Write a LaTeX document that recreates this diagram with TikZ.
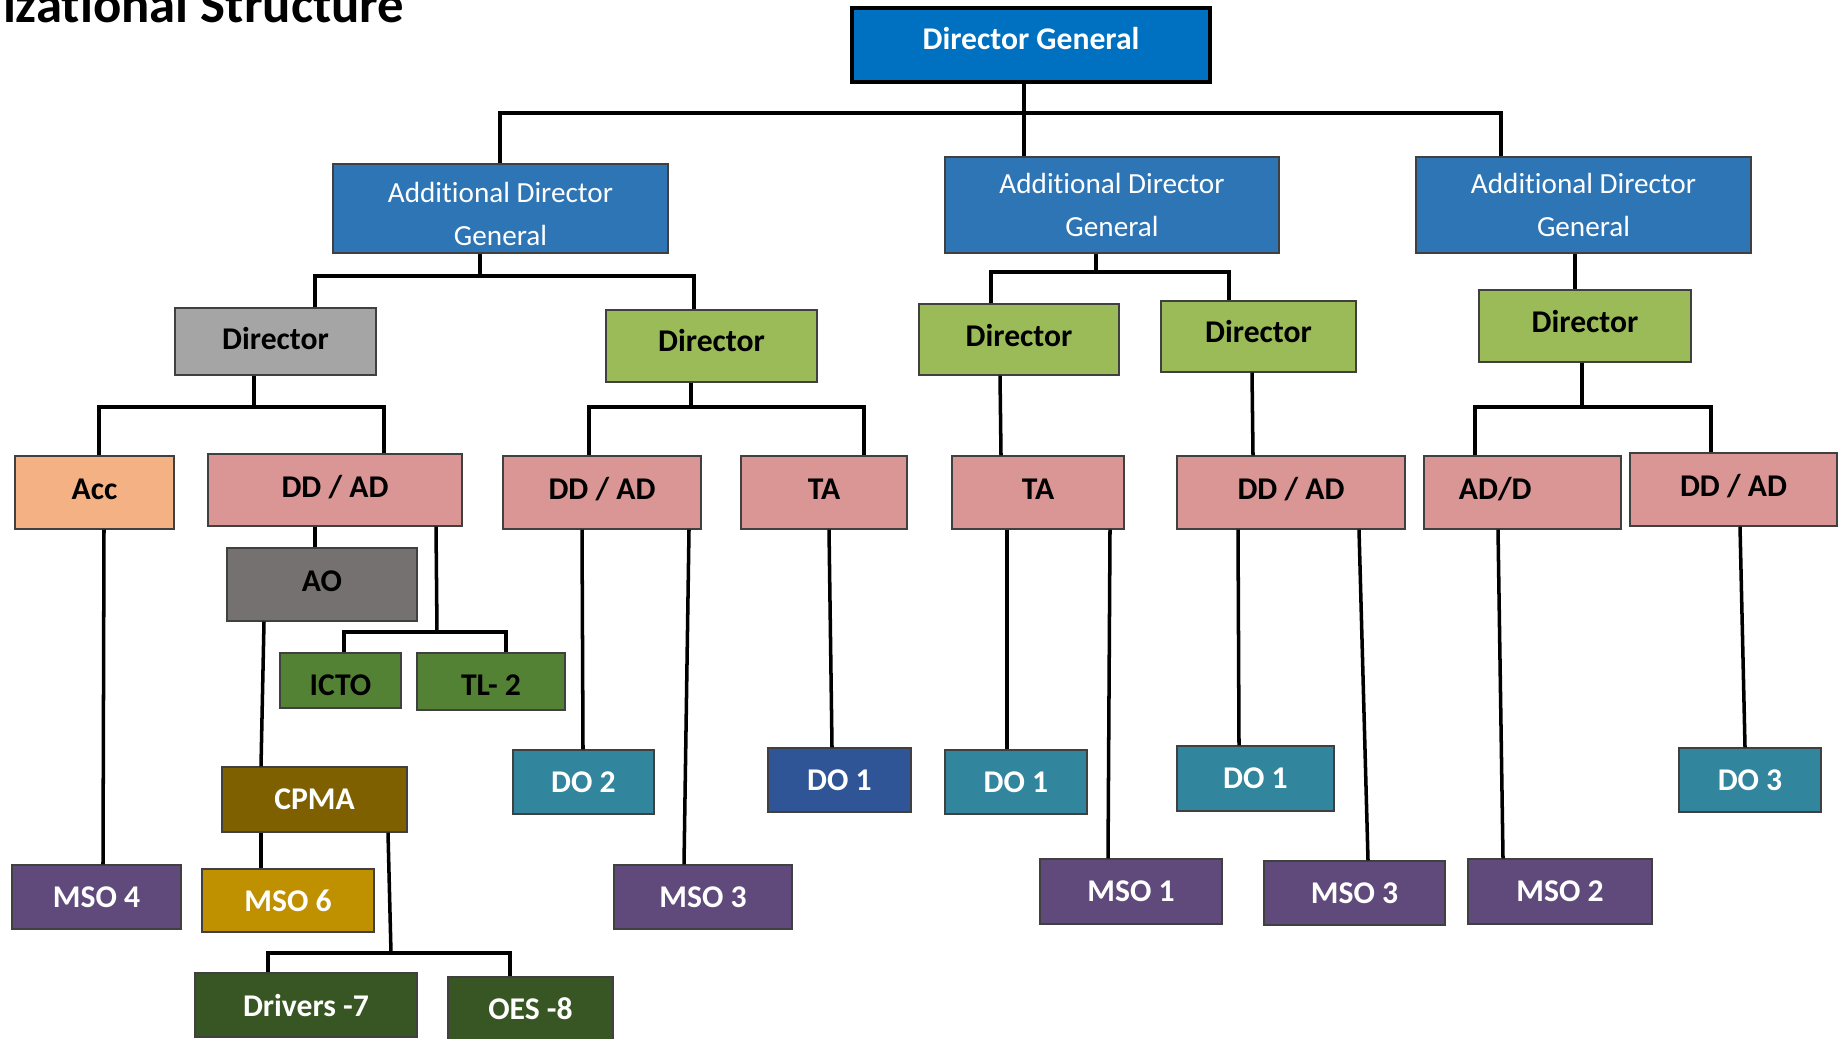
\documentclass[tikz,border=0pt]{standalone}
\usepackage{fontspec}
\setmainfont{Carlito}[Ligatures=NoCommon]

\definecolor{dgblue}{HTML}{0070C0}
\definecolor{adgblue}{HTML}{2E75B6}
\definecolor{dirgray}{HTML}{A5A5A5}
\definecolor{dirgreen}{HTML}{9BBB59}
\definecolor{accorange}{HTML}{F4B183}
\definecolor{ddpink}{HTML}{D99694}
\definecolor{aogray}{HTML}{767171}
\definecolor{ictogreen}{HTML}{548235}
\definecolor{cpmabrown}{HTML}{7F6000}
\definecolor{msopurple}{HTML}{604A7B}
\definecolor{msogold}{HTML}{BF9000}
\definecolor{drvgreen}{HTML}{375623}
\definecolor{doteal}{HTML}{31859C}
\definecolor{donavy}{HTML}{2F5597}

\tikzset{
  sz/.style 2 args={minimum width=#1*0.01cm, minimum height=#2*0.01cm},
  tup/.style={text height=6pt, text depth=#1},
  tdown/.style={text height=#1, text depth=0pt},
  unit/.style={draw=black!75, line width=0.4pt, inner sep=0pt,
    font=\fontsize{9}{11}\selectfont\bfseries},
  dgbox/.style={unit, fill=dgblue, draw=black, line width=1.2pt, text=white},
  adgbox/.style={unit, fill=adgblue, text=white, align=center,
    font=\fontsize{8.3}{12.2}\selectfont},
  dirgraybox/.style={unit, fill=dirgray},
  dirbox/.style={unit, fill=dirgreen},
  accbox/.style={unit, fill=accorange},
  pinkbox/.style={unit, fill=ddpink},
  aobox/.style={unit, fill=aogray},
  ictobox/.style={unit, fill=ictogreen},
  cpmabox/.style={unit, fill=cpmabrown, text=white},
  msobox/.style={unit, fill=msopurple, text=white},
  msogoldbox/.style={unit, fill=msogold, text=white},
  drvbox/.style={unit, fill=drvgreen, text=white},
  dobox/.style={unit, fill=doteal, text=white},
  donavybox/.style={unit, fill=donavy, text=white},
  link/.style={line width=1pt}
}

\begin{document}
\begin{tikzpicture}[x=0.01cm, y=-0.01cm]
  \useasboundingbox (0,0) rectangle (1840,1038);
  \node[anchor=base east, inner sep=0pt, font=\fontsize{15}{18}\selectfont\bfseries] (title) at (405,22) {izational Structure};

  % top levels
  \node[dgbox, tup=3.4pt, sz={358}{74}] (dg) at (1031,45) {Director General};
  \node[adgbox, text height=21.3pt, sz={335}{89}] (adg1) at (500.5,208.5) {Additional Director\\General};
  \node[adgbox, sz={334}{96}] (adg2) at (1112,205) {Additional Director\\General};
  \node[adgbox, sz={335}{96}] (adg3) at (1583.5,205) {Additional Director\\General};

  % directors
  \node[dirgraybox, tup=1.2pt, sz={201}{67}] (dira) at (275.5,341.5) {Director};
  \node[dirbox, tup=3pt, sz={211}{72}] (dirb) at (711.5,346) {Director};
  \node[dirbox, tup=2.2pt, sz={200}{71}] (dirc) at (1019,339.5) {Director};
  \node[dirbox, tup=2.4pt, sz={195}{71}] (dird) at (1258.5,336.5) {Director};
  \node[dirbox, tup=2.4pt, sz={212}{72}] (dire) at (1585,326) {Director};

  % deputies
  \node[accbox, tup=2pt, sz={159}{73}] (acc) at (94.5,492.5) {Acc};
  \node[pinkbox, tup=2pt, sz={254}{72}] (ddad1) at (335,490) {DD / AD};
  \node[pinkbox, tup=2pt, sz={198}{73}] (ddad2) at (602,492.5) {DD / AD};
  \node[pinkbox, tup=2pt, sz={166}{73}] (taone) at (824,492.5) {TA};
  \node[pinkbox, tup=2pt, sz={172}{73}] (tatwo) at (1038,492.5) {TA};
  \node[pinkbox, tup=2pt, sz={228}{73}] (ddad3) at (1291,492.5) {DD / AD};
  \node[pinkbox, tup=2pt, sz={197}{73}, text width=1.27cm, inner xsep=0.35cm, align=left] (add) at (1522.5,492.5) {AD/D};
  \node[pinkbox, tup=2pt, sz={207}{73}] (ddad4) at (1733.5,489.5) {DD / AD};

  % officers
  \node[aobox, tup=2pt, sz={190}{73}] (ao) at (322,584.5) {AO};
  \node[ictobox, tdown=8.6pt, sz={121}{55}] (icto) at (340.5,680.5) {ICTO};
  \node[ictobox, tdown=8pt, sz={148}{57}] (tltwo) at (491,681.5) {TL- 2};
  \node[cpmabox, sz={185}{65}] (cpma) at (314.5,799.5) {CPMA};
  \node[msogoldbox, sz={172}{63}] (msosix) at (288,900.5) {MSO 6};
  \node[drvbox, sz={222}{64}] (drivers) at (306,1005) {Drivers -7};
  \node[drvbox, tup=1.3pt, sz={165}{68}] (oes) at (530.5,1011) {OES -8};
  \node[msobox, sz={169}{64}] (msofour) at (96.5,897) {MSO 4};
  \node[dobox, sz={141}{64}] (dotwo) at (583.5,782) {DO 2};
  \node[msobox, sz={178}{64}] (msothreea) at (703,897) {MSO 3};
  \node[donavybox, sz={143}{64}] (doonea) at (839.5,780) {DO 1};
  \node[dobox, sz={142}{64}] (dooneb) at (1016,782) {DO 1};
  \node[msobox, sz={182}{65}] (msoone) at (1131,891.5) {MSO 1};
  \node[dobox, sz={157}{65}] (doonec) at (1255.5,778.5) {DO 1};
  \node[msobox, sz={181}{64}] (msothreeb) at (1354.5,893) {MSO 3};
  \node[msobox, sz={184}{65}] (msotwo) at (1560,891.5) {MSO 2};
  \node[dobox, sz={142}{64}] (dothree) at (1750,780) {DO 3};

  % connectors, top
  \draw[link] (dg.south -| 1024,0) -- (adg2.north -| 1024,0);
  \draw[link] (adg1.north -| 500,0) -- (500,113) -- (1501,113) -- (adg3.north -| 1501,0);
  \draw[link] (adg1.south -| 480,0) -- (480,276);
  \draw[link] (dira.north -| 315,0) -- (315,276) -- (694,276) -- (dirb.north -| 694,0);
  \draw[link] (adg2.south -| 1096,0) -- (1096,272);
  \draw[link] (dirc.north -| 991,0) -- (991,272) -- (1229,272) -- (dird.north -| 1229,0);
  \draw[link] (adg3.south -| 1575,0) -- (dire.north -| 1575,0);

  % connectors, directors
  \draw[link] (dira.south -| 254,0) -- (254,407);
  \draw[link] (acc.north -| 99,0) -- (99,407) -- (384,407) -- (ddad1.north -| 384,0);
  \draw[link] (dirb.south -| 691,0) -- (691,407);
  \draw[link] (ddad2.north -| 589,0) -- (589,407) -- (864,407) -- (taone.north -| 864,0);
  \draw[link] (dirc.south -| 1000,0) -- (tatwo.north -| 1001,0);
  \draw[link] (dird.south -| 1252,0) -- (ddad3.north -| 1253,0);
  \draw[link] (dire.south -| 1582,0) -- (1582,407);
  \draw[link] (add.north -| 1475,0) -- (1475,407) -- (1711,407) -- (ddad4.north -| 1711,0);

  % connectors, lower
  \draw[link] (acc.south -| 104,0) -- (msofour.north -| 103,0);
  \draw[link] (ddad1.south -| 315,0) -- (ao.north -| 315,0);
  \draw[link] (ddad1.south -| 436,0) -- (437,632);
  \draw[link] (icto.north -| 344,0) -- (344,632) -- (506,632) -- (tltwo.north -| 506,0);
  \draw[link] (ao.south -| 264,0) -- (cpma.north -| 261,0);
  \draw[link] (cpma.south -| 261,0) -- (msosix.north -| 261,0);
  \draw[link] (cpma.south -| 388,0) -- (391,953);
  \draw[link] (drivers.north -| 268,0) -- (268,953) -- (510,953) -- (oes.north -| 510,0);
  \draw[link] (ddad2.south -| 582,0) -- (dotwo.north -| 583,0);
  \draw[link] (ddad2.south -| 689,0) -- (msothreea.north -| 684,0);
  \draw[link] (taone.south -| 829,0) -- (doonea.north -| 832,0);
  \draw[link] (tatwo.south -| 1007,0) -- (dooneb.north -| 1007,0);
  \draw[link] (tatwo.south -| 1110,0) -- (msoone.north -| 1108,0);
  \draw[link] (ddad3.south -| 1238,0) -- (doonec.north -| 1239,0);
  \draw[link] (ddad3.south -| 1359,0) -- (msothreeb.north -| 1368,0);
  \draw[link] (add.south -| 1498,0) -- (msotwo.north -| 1503,0);
  \draw[link] (ddad4.south -| 1740,0) -- (dothree.north -| 1745,0);
\end{tikzpicture}
\end{document}
